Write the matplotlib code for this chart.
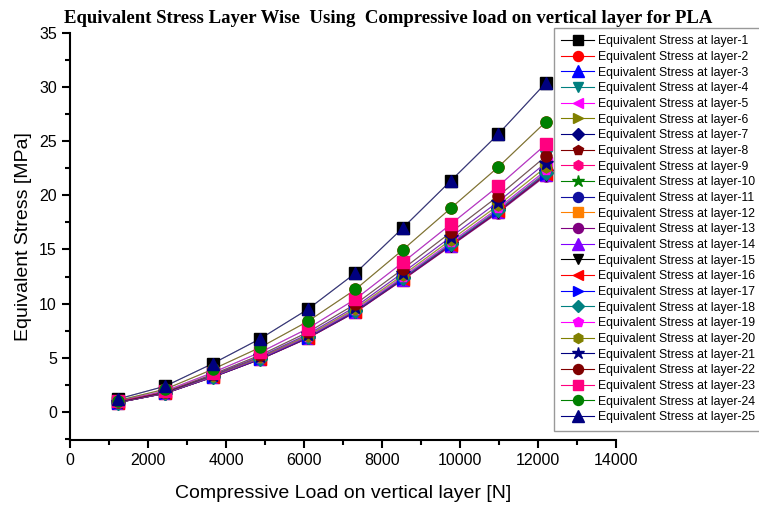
import matplotlib
matplotlib.use("Agg")
import matplotlib.pyplot as plt
from matplotlib.ticker import MultipleLocator

load = [1220, 2440, 3660, 4880, 6100, 7320, 8540, 9760, 10980, 12200]

layer1 = [1.18, 2.37, 4.46, 6.76, 9.48, 12.82, 17.01, 21.33, 25.65, 30.39]
layer2 = [1.04, 2.09, 3.93, 5.96, 8.36, 11.31, 14.99, 18.80, 22.61, 26.79]
layer3 = [0.96, 1.93, 3.63, 5.50, 7.70, 10.42, 13.82, 17.33, 20.85, 24.70]
layer4 = [0.92, 1.84, 3.47, 5.25, 7.36, 9.96, 13.21, 16.57, 19.93, 23.61]
layer5 = [0.90, 1.79, 3.38, 5.12, 7.17, 9.71, 12.87, 16.14, 19.41, 23.00]
layer6 = [0.88, 1.76, 3.32, 5.03, 7.05, 9.54, 12.65, 15.87, 19.08, 22.61]
layer7 = [0.87, 1.74, 3.27, 4.96, 6.96, 9.41, 12.48, 15.65, 18.82, 22.30]
layer8 = [0.86, 1.72, 3.24, 4.92, 6.90, 9.33, 12.37, 15.51, 18.66, 22.11]
layer9 = [0.86, 1.72, 3.23, 4.89, 6.86, 9.28, 12.31, 15.44, 18.57, 22.00]
layer10 = [0.86, 1.71, 3.22, 4.88, 6.84, 9.26, 12.27, 15.39, 18.51, 21.93]
layer11 = [0.85, 1.71, 3.21, 4.87, 6.83, 9.24, 12.25, 15.36, 18.47, 21.89]
layer12 = [0.85, 1.70, 3.21, 4.86, 6.81, 9.22, 12.22, 15.33, 18.44, 21.84]
layer13 = [0.85, 1.70, 3.20, 4.85, 6.80, 9.20, 12.20, 15.30, 18.40, 21.80]
layer14 = [0.85, 1.70, 3.21, 4.86, 6.81, 9.22, 12.22, 15.33, 18.44, 21.84]
layer15 = [0.85, 1.71, 3.21, 4.87, 6.83, 9.24, 12.25, 15.36, 18.47, 21.89]
layer16 = [0.86, 1.71, 3.22, 4.88, 6.84, 9.26, 12.27, 15.39, 18.51, 21.93]
layer17 = [0.86, 1.72, 3.23, 4.89, 6.86, 9.28, 12.31, 15.44, 18.57, 22.00]
layer18 = [0.86, 1.72, 3.24, 4.92, 6.90, 9.33, 12.37, 15.51, 18.66, 22.11]
layer19 = [0.87, 1.74, 3.27, 4.96, 6.96, 9.41, 12.48, 15.65, 18.82, 22.30]
layer20 = [0.88, 1.76, 3.32, 5.03, 7.05, 9.54, 12.65, 15.87, 19.08, 22.61]
layer21 = [0.90, 1.79, 3.38, 5.12, 7.17, 9.71, 12.87, 16.14, 19.41, 23.00]
layer22 = [0.92, 1.84, 3.47, 5.25, 7.36, 9.96, 13.21, 16.57, 19.93, 23.61]
layer23 = [0.96, 1.93, 3.63, 5.50, 7.70, 10.42, 13.82, 17.33, 20.85, 24.70]
layer24 = [1.04, 2.09, 3.93, 5.96, 8.36, 11.31, 14.99, 18.80, 22.61, 26.79]
layer25 = [1.18, 2.37, 4.46, 6.76, 9.48, 12.82, 17.01, 21.33, 25.65, 30.39]

series = [layer1, layer2, layer3, layer4, layer5, layer6, layer7, layer8, layer9,
          layer10, layer11, layer12, layer13, layer14, layer15, layer16, layer17,
          layer18, layer19, layer20, layer21, layer22, layer23, layer24, layer25]
labels = [f"Equivalent Stress at layer-{i}" for i in range(1, 26)]

colors = ["#000000", "#FF0000", "#0000FF", "#008080", "#FF00FF", "#808000",
          "#000080", "#800000", "#FF0080", "#008000", "#1010A0", "#FF8000",
          "#800080", "#8000FF", "#000000", "#FF0000", "#0000FF", "#008080",
          "#FF00FF", "#808000", "#000080", "#800000", "#FF0080", "#008000",
          "#000080"]
markers = ["s", "o", "^", "v", "<", ">", "D", "p", "h", "*", "o", "s", "o",
           "^", "v", "<", ">", "D", "p", "h", "*", "o", "s", "o", "^"]

plt.rcParams["font.family"] = ["Liberation Sans", "DejaVu Sans"]

fig = plt.figure(figsize=(7.59, 5.05), dpi=100)
ax = fig.add_axes([0.0922, 0.1287, 0.7194, 0.806])

handles = []
for ys, c, m, lab in zip(series, colors, markers, labels):
    ms = 8
    if m == "*":
        ms = 10
    elif m == "D":
        ms = 7
    elif m == "^":
        ms = 9
    ax.plot(load, ys, color=c, lw=0.8, alpha=0.55, zorder=2)
    ax.plot(load, ys, ls="none", marker=m, color=c, ms=ms, mec=c, zorder=3)
    h, = ax.plot([], [], color=c, lw=0.8, marker=m, ms=ms * 0.9, mec=c, label=lab)
    handles.append(h)

ax.set_xlim(0, 14000)
ax.set_ylim(-2.6, 35)
ax.xaxis.set_major_locator(MultipleLocator(2000))
ax.xaxis.set_minor_locator(MultipleLocator(1000))
ax.yaxis.set_major_locator(MultipleLocator(5))
ax.yaxis.set_minor_locator(MultipleLocator(2.5))
ax.tick_params(which="major", direction="out", length=6, width=1.5, labelsize=11.5, colors="#000000")
ax.tick_params(which="minor", direction="out", length=3.5, width=1.5)
for s in ["top", "right"]:
    ax.spines[s].set_visible(False)
for s in ["left", "bottom"]:
    ax.spines[s].set_linewidth(1.5)

ax.set_xlabel("Compressive Load on vertical layer [N]", fontsize=14, labelpad=12)
ax.set_ylabel("Equivalent Stress [MPa]", fontsize=14, labelpad=5)

fig.text(0.511, 0.963, "Equivalent Stress Layer Wise  Using  Compressive load on vertical layer for PLA",
         ha="center", va="center", fontsize=13.5, fontweight="bold",
         family=["Liberation Serif", "DejaVu Serif"])

leg = fig.legend(handles=handles, loc="upper left", bbox_to_anchor=(554 / 759, 1 - 28 / 505),
                 fontsize=8.8, frameon=True, fancybox=False, edgecolor="#808080",
                 handlelength=2.7, handletextpad=0.3, labelspacing=0.30, borderpad=0.6,
                 borderaxespad=0)
leg.get_frame().set_linewidth(1.0)

fig.savefig("out.png", dpi=100)
